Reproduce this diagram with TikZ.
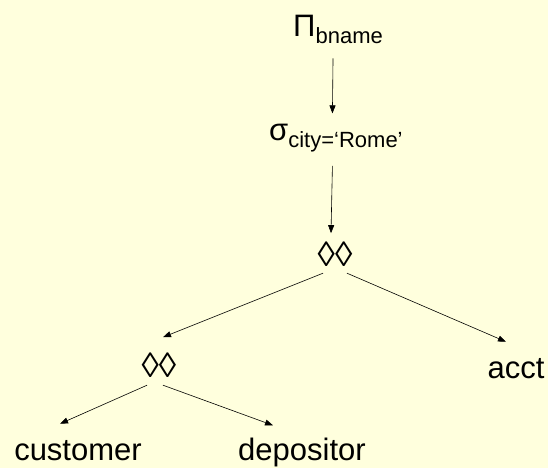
\documentclass[tikz,border=0pt]{standalone}
\usepackage{fontspec}
\setmainfont{Liberation Sans}
\usetikzlibrary{arrows.meta}
\definecolor{bgyellow}{HTML}{FFFFDD}
\newcommand{\subtxt}[1]{\raisebox{-7pt}{\fontsize{22}{22}\selectfont #1}}
\tikzset{
  lbl/.style={inner sep=0pt, font=\fontsize{31}{31}\selectfont},
  joinsym/.style={inner sep=0pt, font=\fontsize{35}{35}\selectfont},
  arr/.style={draw=black, line width=0.6pt, -{Triangle[length=8pt,width=6pt]}},
  plain/.style={draw=black, line width=0.6pt}
}
\begin{document}
\begin{tikzpicture}[x=1pt,y=-1pt]
\fill[bgyellow] (0,0) rectangle (548,468);
\useasboundingbox (0,0) rectangle (548,468);
\node[lbl, anchor=base west] (proj) at (293,37) {Π\subtxt{bname}};
\node[lbl, anchor=base west] (sel) at (269,140) {σ\subtxt{city=‘Rome’}};
\node[joinsym, anchor=base] (j1) at (335,266) {◊◊};
\node[joinsym, anchor=base] (j2) at (159,377) {◊◊};
\node[lbl, anchor=base] (acct) at (516,378) {acct};
\node[lbl, anchor=base] (cust) at (78,460) {customer};
\node[lbl, anchor=base] (dep) at (302,460) {depositor};
\draw[arr] ([xshift=-5pt,yshift=-14pt]proj.south) -- ([xshift=-3.5pt,yshift=10pt]sel.north);
\draw[arr] ([xshift=-3.5pt,yshift=-14pt]sel.south) -- ([xshift=-4pt,yshift=8pt]j1.north);
\draw[arr] ([xshift=-12pt,yshift=-7pt]j1.south) -- ([xshift=4pt,yshift=15pt]j2.north);
\draw[arr] ([xshift=12pt,yshift=-7pt]j1.south) -- ([xshift=-10pt,yshift=16pt]acct.north);
\draw[arr] ([xshift=-12pt,yshift=-8pt]j2.south) -- ([xshift=-18pt,yshift=16pt]cust.north);
\draw[arr] ([xshift=4pt,yshift=-8pt]j2.south) -- ([xshift=-29pt,yshift=12pt]dep.north);
\end{tikzpicture}
\end{document}
